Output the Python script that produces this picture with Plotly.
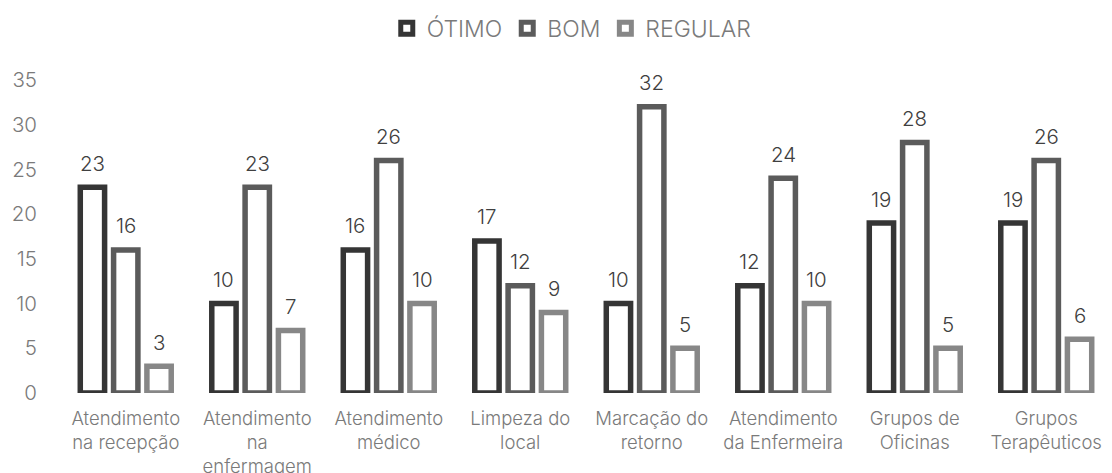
import plotly.graph_objects as go

categories = ["Atendimento<br>na recepção", "Atendimento<br>na<br>enfermagem",
              "Atendimento<br>médico", "Limpeza do<br>local", "Marcação do<br>retorno",
              "Atendimento<br>da Enfermeira", "Grupos de<br>Oficinas", "Grupos<br>Terapêuticos"]
series_names = ["ÓTIMO", "BOM", "REGULAR"]
otimo = [23, 10, 16, 17, 10, 12, 19, 19]
bom = [16, 23, 26, 12, 32, 24, 28, 26]
regular = [3, 7, 10, 9, 5, 10, 5, 6]
y_ticks = [0, 5, 10, 15, 20, 25, 30, 35]

colors = ["#353535", "#5b5b5b", "#878787"]
FONT = "Inter, DejaVu Sans"
WEIGHT = 300
BARGAP = 0.24

fig = go.Figure()
all_series = [otimo, bom, regular]
for name, vals, col in zip(series_names, all_series, colors):
    fig.add_trace(go.Bar(
        x=categories, y=vals, name=name,
        marker=dict(color="white", line=dict(color=col, width=5.5)),
        hoverinfo="skip",
    ))

annotations = []
n = len(all_series)
for i, vals in enumerate(all_series):
    off = (i - (n - 1) / 2) * (1 - BARGAP) / n
    for j, v in enumerate(vals):
        annotations.append(dict(
            x=j + off, y=v, xref="x", yref="y", text=str(v), showarrow=False,
            yanchor="middle", yshift=24,
            font=dict(family=FONT, size=20.5, color="#404040", weight=WEIGHT),
        ))

# page body has an 8px margin, so the figure is sized to end at the window edge
fig.update_layout(
    template="none",
    width=1104, height=465,
    margin=dict(l=52, r=0, t=72, b=79.5, autoexpand=False),
    paper_bgcolor="white", plot_bgcolor="white",
    barmode="group", bargap=BARGAP, bargroupgap=0.27,
    font=dict(family=FONT, color="#808080", weight=WEIGHT),
    showlegend=True,
    legend=dict(orientation="h", x=0.486, xanchor="center", y=1.165, yanchor="middle",
                font=dict(family=FONT, size=23, color="#7a7a7a", weight=WEIGHT), itemwidth=30,
                traceorder="normal", bgcolor="rgba(0,0,0,0)"),
    annotations=annotations,
)
fig.update_xaxes(type="category", showgrid=False, showline=False, zeroline=False,
                 automargin=False, ticks="", ticklabelstandoff=12,
                 tickfont=dict(family=FONT, size=18.5, color="#7a7a7a", weight=WEIGHT))
fig.update_yaxes(range=[0, 35], tickvals=y_ticks, showgrid=False, showline=False,
                 zeroline=False, automargin=False, ticks="", ticklabelstandoff=22,
                 tickfont=dict(family=FONT, size=20.5, color="#7a7a7a", weight=WEIGHT))

fig.write_html("out.html")
